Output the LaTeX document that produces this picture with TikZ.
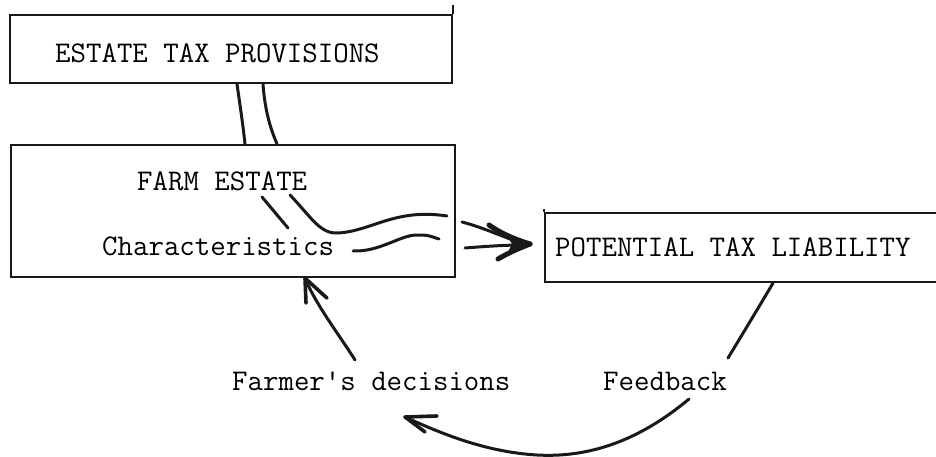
\documentclass[tikz,border=0pt]{standalone}
\usetikzlibrary{arrows.meta}
\begin{document}
\begin{tikzpicture}[x=1pt,y=-1pt,
  boxnode/.style={draw=black!90, line width=2.2pt, inner sep=0pt, rectangle},
  lbl/.style={anchor=base west, inner sep=0pt, text=black, font=\ttfamily\fontsize{30}{32}\selectfont},
  conn/.style={draw=black!90, line width=3pt, line cap=round, line join=round},
  barb/.style={draw=black!90, line width=3.6pt, line cap=round}
]
\useasboundingbox (0,0) rectangle (936,457);
% boxes
\node[boxnode, minimum width=442pt, minimum height=68pt] (b1) at (231,49) {};
\node[boxnode, minimum width=444pt, minimum height=132pt] (b2) at (233,211) {};
\node[boxnode, minimum width=400pt, minimum height=69pt] (b3) at (745,247.5) {};
\draw[line width=2.2pt, draw=black!90] (b1.north east) -- ++(0,-9);
\draw[line width=2.2pt, draw=black!90] (b3.north west) -- ++(0,-3);
% texts
\node[lbl] (t1) at (55,63) {ESTATE TAX PROVISIONS};
\node[lbl] (t2) at (137,190) {FARM ESTATE};
\node[lbl] (t3) at (102,255) {Characteristics};
\node[lbl] (t4) at (555,256) {POTENTIAL TAX LIABILITY};
\node[lbl] (t5) at (232,390) {Farmer's decisions};
\node[lbl] (t6) at (603,390) {Feedback};
% double connector b1 -> b2
\coordinate (d1a) at (b1.south -| 237,0);
\coordinate (d1b) at (b2.north -| 245,0);
\coordinate (d2a) at (b1.south -| 263,0);
\coordinate (d2b) at (b2.north -| 277,0);
\draw[conn] (d1a) .. controls (240,105) and (243,125) .. (d1b);
\draw[conn] (d2a) .. controls (265,112) and (271,130) .. (d2b);
% inner wavy lines
\coordinate (s1a) at (262,197);
\coordinate (s1b) at (288,228);
\draw[conn] (s1a) -- (s1b);
\coordinate (s2a) at (290,195);
\coordinate (s2b) at (447,216);
\draw[conn] (s2a) .. controls (312,218) and (320,234) .. (338,233) .. controls (372,231) and (395,208) .. (s2b);
\coordinate (s3a) at (353,251);
\coordinate (s3b) at (439,239);
\draw[conn] (s3a) .. controls (380,252) and (400,235) .. (417,235) .. controls (427,235) .. (s3b);
% double arrow to b3
\coordinate (ta) at (462,222);
\coordinate (tb) at (465,248);
\coordinate (tip) at (530,244);
\draw[conn] (ta) .. controls (485,228) and (505,238) .. (522,243);
\draw[conn] (tb) .. controls (490,246) and (508,245) .. (522,245);
\draw[draw=black!90, line width=5pt, line cap=round] (489,225) .. controls (505,236) and (518,240) .. (tip);
\draw[draw=black!90, line width=5pt, line cap=round] (498,259) .. controls (510,252) and (520,248) .. (tip);
\fill[black!90] (tip) -- (506,234) -- (512,244) -- (507,254) -- cycle;
% farmer's decisions arrow
\coordinate (fa) at (355,360);
\coordinate (fb) at (b2.south -| 305,0);
\draw[conn] (fa) .. controls (338,333) and (316,305) .. (fb);
\draw[barb] (fb) -- ++(1,25);
\draw[barb] (fb) -- ++(22,20);
% feedback line
\coordinate (ga) at (b3.south -| 773,0);
\coordinate (gb) at (728,358);
\draw[conn] (ga) .. controls (760,305) and (745,330) .. (gb);
% bottom arrow
\coordinate (ha) at (689,399);
\coordinate (hb) at (405,417);
\draw[conn] (ha) .. controls (640,440) and (590,458) .. (537,455) .. controls (485,452) and (440,433) .. (hb);
\draw[barb] (hb) -- ++(32,-1);
\draw[barb] (hb) -- ++(20,15);
\end{tikzpicture}
\end{document}
